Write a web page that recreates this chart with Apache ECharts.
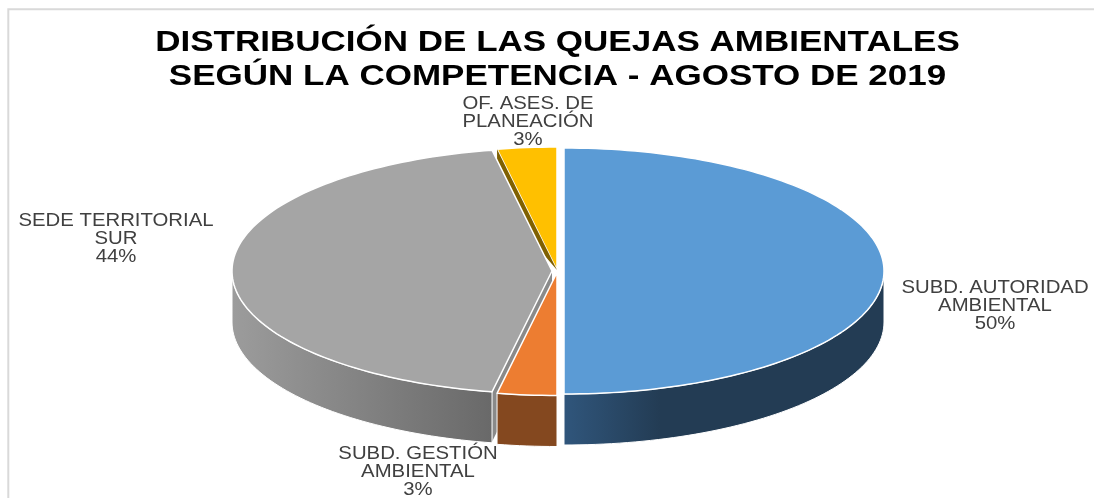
<!DOCTYPE html>
<html>
<head>
<meta charset="utf-8">
<title>Quejas ambientales</title>
<style>
html, body { margin: 0; padding: 0; background: #fff; }
#chart { width: 1094px; height: 498px; }
</style>
<script src="https://cdn.jsdelivr.net/npm/echarts@6/dist/echarts.min.js"></script>
</head>
<body>
<div id="chart"></div>
<script>
// datos, en sentido horario desde las 12
var categories = ['SUBD. AUTORIDAD\nAMBIENTAL', 'SUBD. GESTIÓN\nAMBIENTAL', 'SEDE TERRITORIAL\nSUR', 'OF. ASES. DE\nPLANEACIÓN'];
var values = [50, 3, 44, 3];
var titleLines = ['DISTRIBUCIÓN DE LAS QUEJAS AMBIENTALES', 'SEGÚN LA COMPETENCIA - AGOSTO DE 2019'];

// estilo de cada porcion
var topColors = ['#5b9bd5', '#ed7d31', '#a5a5a5', '#ffc000'];
var wallStart = ['#30567c', '#84481f', '#9c9c9c', '#7f6000'];
var wallEnd = ['#233c54', '#84481f', '#696969', '#7f6000'];
var paintOrder = [3, 2, 1, 0];
var shiftX = [8, 1, -4, 1];
var shiftY = [0, 1.5, 0, -1];
var labelX = [995, 418, 116, 528];
var labelY = [306, 472, 239, 122];

// elipse de la torta
var cx = 556, cy = 271, rx = 320, ry = 123, depth = 51;
var labelScale = 1.13;

var total = values.reduce(function (a, b) { return a + b; }, 0);

function rimPoint(c, angle, dy) {
    return [c[0] + rx * Math.sin(angle), c[1] - ry * Math.cos(angle) + (dy || 0)];
}

// puntos del borde exterior entre dos angulos
function rim(c, a1, a2, dy) {
    var pts = [];
    var n = Math.max(2, Math.ceil((a2 - a1) * 40));
    for (var i = 0; i <= n; i++) {
        pts.push(rimPoint(c, a1 + (a2 - a1) * i / n, dy));
    }
    return pts;
}

function renderSlice(params, api) {
    var i = params.dataIndex;
    var before = 0;
    for (var k = 0; k < i; k++) before += values[k];
    var a1 = before / total * Math.PI * 2;
    var a2 = (before + api.value(0)) / total * Math.PI * 2;
    var c = [cx + shiftX[i], cy + shiftY[i]];
    var base = paintOrder[i] * 10;
    var children = [];

    // cara del corte que mira hacia el frente
    if (i === 2) {
        var pg = rimPoint(c, a1);
        children.push({
            type: 'polygon',
            z2: base,
            shape: { points: [c, pg, [pg[0], pg[1] + depth - 1], [c[0], c[1] + depth - 1]] },
            style: { fill: '#8a8a8a' }
        });
    }
    if (i === 3) {
        var py = rimPoint(c, a1);
        children.push({
            type: 'polygon',
            z2: base + 3,
            shape: { points: [c, py, [py[0], py[1] + depth]] },
            style: { fill: '#7f6000' }
        });
    }

    // pared exterior, solo la mitad delantera
    var w1 = Math.max(a1, Math.PI / 2);
    var w2 = Math.min(a2, Math.PI * 1.5);
    if (w2 > w1) {
        var front = rim(c, w1, w2, 0);
        var back = rim(c, w1, w2, depth).reverse();
        children.push({
            type: 'polygon',
            z2: base + 1,
            shape: { points: front.concat(back) },
            style: {
                fill: new echarts.graphic.LinearGradient(0, 0, 1, 0, [
                    { offset: 0, color: wallStart[i] },
                    { offset: i === 2 ? 1 : 0.3, color: wallEnd[i] },
                    { offset: 1, color: wallEnd[i] }
                ]),
                stroke: '#fff',
                lineWidth: 1
            }
        });
    }

    // cara superior
    children.push({
        type: 'polygon',
        z2: base + 2,
        shape: { points: [c].concat(rim(c, a1, a2, 0)) },
        style: { fill: topColors[i], stroke: '#fff', lineWidth: 1.5, lineJoin: 'round' }
    });

    // etiqueta
    children.push({
        type: 'text',
        z2: 100,
        x: labelX[i],
        y: labelY[i],
        scaleX: labelScale,
        style: {
            text: categories[i] + '\n' + api.value(0) + '%',
            fill: '#404040',
            font: '18px "Liberation Sans", Arial, sans-serif',
            lineHeight: 18,
            align: 'center',
            verticalAlign: 'middle'
        }
    });

    return { type: 'group', children: children };
}

var myChart = echarts.init(document.getElementById('chart'), null, { renderer: 'canvas' });
myChart.setOption({
    animation: false,
    backgroundColor: '#fff',
    graphic: [{
        type: 'rect',
        silent: true,
        shape: { x: 8.3, y: 9.2, width: 1100, height: 500 },
        style: { fill: 'none', stroke: '#d9d9d9', lineWidth: 2 }
    }, {
        type: 'text',
        silent: true,
        x: 557.5,
        y: 60,
        scaleX: 1.207,
        style: {
            text: titleLines.join('\n'),
            fill: '#000',
            font: 'bold 29px "Liberation Sans", Arial, sans-serif',
            lineHeight: 34,
            align: 'center',
            verticalAlign: 'middle'
        }
    }],
    series: [{
        type: 'custom',
        coordinateSystem: 'none',
        renderItem: renderSlice,
        data: values.map(function (v) { return [v]; })
    }]
});
</script>
</body>
</html>
